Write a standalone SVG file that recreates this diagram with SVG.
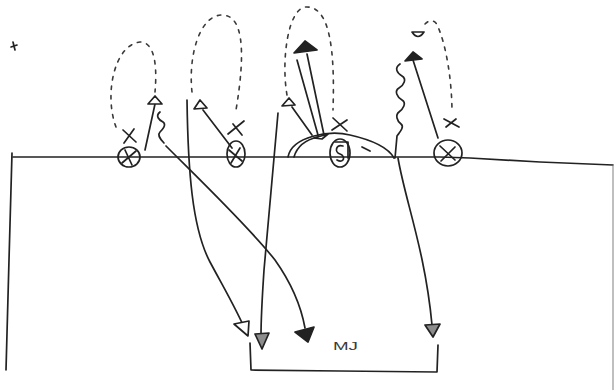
<svg xmlns="http://www.w3.org/2000/svg" width="615" height="390" viewBox="0 0 615 390">
  <style>
    .ln { fill: none; stroke: #222222; stroke-width: 1.7; stroke-linecap: round; stroke-linejoin: round; }
    .faint { fill: none; stroke: #8a8a8a; stroke-width: 1.1; stroke-linecap: round; }
    .dash { fill: none; stroke: #3a3a3a; stroke-width: 1.6; stroke-linecap: round; stroke-dasharray: 3.5 6; }
    .head { fill: #ffffff; stroke: #222222; stroke-width: 1.7; stroke-linejoin: round; }
    .headg { fill: #8c8c8c; stroke: #222222; stroke-width: 1.7; stroke-linejoin: round; }
    .headf { fill: #222222; stroke: #222222; stroke-width: 1.7; stroke-linejoin: round; }
    .lbl { font-family: "Liberation Sans", Arial, sans-serif; font-size: 11px; fill: #3a3a3a; }
  </style>
  <rect width="615" height="390" fill="#ffffff"/>

  <!-- field: line of scrimmage, sidelines, end bracket -->
  <g id="field">
    <path class="ln" d="M13,157 L300,157 L440,157 L470,158 L540,162 L613,165"/>
    <path class="ln" d="M12,153 L9,260 L6,370"/>
    <path class="faint" d="M613,166 L613,390"/>
    <path class="ln" d="M250,343 L251,370 L340,371 L437,372 L438,345"/>
    <path class="ln" d="M13,42 L15,50 M11,47 L17,45"/>
    <text class="lbl" x="333" y="350" textLength="25" lengthAdjust="spacingAndGlyphs">MJ</text>
  </g>

  <!-- player 1 -->
  <g id="p1">
    <ellipse class="ln" cx="129" cy="157" rx="11" ry="10"/>
    <path class="ln" d="M122,163 L136,151 M125,150 L132,165"/>
    <path class="ln" d="M123,130 L136,142 M134,129 L124,143"/>
    <path class="dash" d="M116,127 C104,95 114,45 140,42 C156,42 157,70 155,92"/>
  </g>

  <!-- player 2 -->
  <g id="p2">
    <ellipse class="ln" cx="236" cy="154" rx="9" ry="13"/>
    <path class="ln" d="M229,150 L242,161 M240,148 L231,163"/>
    <path class="ln" d="M228,134 L244,121 M233,124 L242,135"/>
    <path class="dash" d="M192,92 C188,55 200,15 222,15 C243,15 246,50 236,110"/>
  </g>

  <!-- player 3 -->
  <g id="p3">
    <ellipse class="ln" cx="340" cy="153" rx="10" ry="14"/>
    <path class="ln" d="M343,146 C336,144 334,152 340,154 C346,156 344,164 337,160"/>
    <path class="ln" d="M335,142 L348,142 L348,158"/>
    <path class="ln" d="M333,118 L347,131 M347,120 L332,130"/>
    <path class="ln" d="M288,157 C292,136 330,130 350,135 C372,140 388,147 394,158"/>
    <path class="ln" d="M294,157 C298,143 309,139 318,137"/>
    <path class="ln" d="M362,147 L370,151"/>
    <path class="dash" d="M287,95 C281,60 288,8 306,7 C330,6 335,50 333,110"/>
  </g>

  <!-- player 4 -->
  <g id="p4">
    <ellipse class="ln" cx="448" cy="153" rx="14" ry="13"/>
    <path class="ln" d="M440,146 L455,160 M455,147 L441,161"/>
    <path class="ln" d="M444,119 L459,127 M446,127 L456,119"/>
    <path class="dash" d="M425,24 C430,19 436,20 438,27 C446,45 452,80 452,113"/>
    <path class="ln" d="M412,32 Q418,41 424,32 Z"/>
  </g>

  <!-- routes -->
  <g id="routes">
    <!-- player 1 -->
    <path class="ln" d="M155,104 L145,150"/>
    <polygon class="head" points="148,104 155,96 162,104"/>
    <path class="ln" d="M160,112 c-5,4 -1,8 3,10 c4,3 -1,8 -3,10 c-3,3 1,8 4,11"/>
    <path class="ln" d="M166,146 C200,180 250,228 275,260 C292,284 301,306 305,328"/>
    <polygon class="headf" points="295,332 314,327 308,342"/>

    <!-- player 2 -->
    <path class="ln" d="M203,110 L232,148"/>
    <polygon class="head" points="194,109 200,100 207,108"/>
    <path class="ln" d="M187,100 C188,170 192,228 210,262 C225,290 238,312 247,334"/>
    <polygon class="head" points="234,324 249,321 248,336"/>

    <!-- player 3 -->
    <path class="ln" d="M297,60 L318,135 M307,54 L324,135"/>
    <polygon class="headf" points="294,53 305,41 317,50"/>
    <path class="ln" d="M292,107 L312,135"/>
    <polygon class="head" points="282,106 289,98 295,105"/>
    <path class="ln" d="M314,138 L328,134 L322,139 Z"/>
    <path class="ln" d="M278,113 C273,170 268,228 264,270 C262,300 261,320 261,336"/>
    <polygon class="headg" points="255,334 269,333 262,349"/>

    <!-- player 4 -->
    <path class="ln" d="M400,64 c-6,4 -3,9 2,12 c5,3 2,9 -3,12 c-5,3 -2,9 3,12 c5,3 1,9 -3,12 c-4,3 -2,9 2,12 c4,3 -2,9 -4,12 L395,158"/>
    <path class="ln" d="M438,138 L413,60"/>
    <polygon class="headf" points="405,61 413,52 422,59"/>
    <path class="ln" d="M398,158 C405,200 425,250 432,325"/>
    <polygon class="headg" points="425,325 440,324 433,337"/>
  </g>
</svg>
